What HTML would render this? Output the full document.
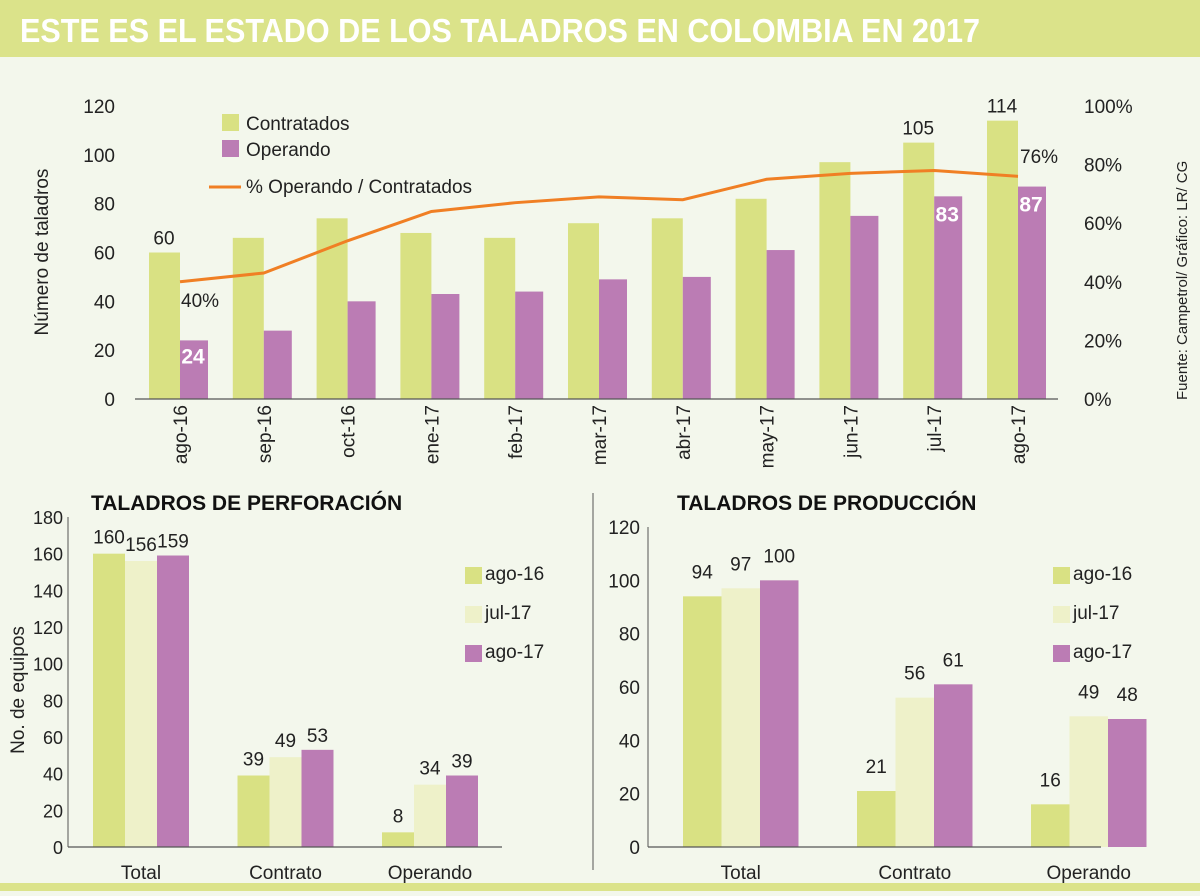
<!DOCTYPE html>
<html><head><meta charset="utf-8"><style>
body{margin:0;width:1200px;height:891px;overflow:hidden;background:#f3f7ec;font-family:"Liberation Sans",sans-serif}
svg text{font-family:"Liberation Sans",sans-serif}
</style></head><body>
<svg id="s" width="1200" height="891" xmlns="http://www.w3.org/2000/svg">
<rect x="0" y="0" width="1200" height="891" fill="#f3f7ec"/>
<rect x="0" y="0" width="1200" height="57" fill="#dbe38a"/>
<text x="20" y="42" font-size="33" font-weight="bold" fill="#fff" textLength="960" lengthAdjust="spacingAndGlyphs">ESTE ES EL ESTADO DE LOS TALADROS EN COLOMBIA EN 2017</text>
<rect x="0" y="883" width="1200" height="8" fill="#dbe38a"/>
<line x1="593" y1="493" x2="593" y2="870" stroke="#555" stroke-width="1"/>
<text transform="translate(1187,400) rotate(-90)" font-size="15" fill="#222">Fuente: Campetrol/ Gráfico: LR/ CG</text>
<g id="topchart"></g>
<g id="bl"></g>
<g id="br"></g>
</svg>
<script>
const months=["ago-16","sep-16","oct-16","ene-17","feb-17","mar-17","abr-17","may-17","jun-17","jul-17","ago-17"];
const contratados=[60,66,74,68,66,72,74,82,97,105,114];
const operando=[24,28,40,43,44,49,50,61,75,83,87];
const pctOperando=[40,43,54,64,67,69,68,75,77,78,76];
const leftTicks=[0,20,40,60,80,100,120];
const rightTicks=[0,20,40,60,80,100];
const perfCats=["Total","Contrato","Operando"];
const perfAgo16=[160,39,8];
const perfJul17=[156,49,34];
const perfAgo17=[159,53,39];
const perfTicks=[0,20,40,60,80,100,120,140,160,180];
const prodCats=["Total","Contrato","Operando"];
const prodAgo16=[94,21,16];
const prodJul17=[97,56,49];
const prodAgo17=[100,61,48];
const prodTicks=[0,20,40,60,80,100,120];
const G="#d9e183",P="#eef1c9",M="#bb7cb4",O="#f07f24";
const NS="http://www.w3.org/2000/svg";
function mk(par,tag,at,txt){const e=document.createElementNS(NS,tag);for(const k in at)e.setAttribute(k,at[k]);if(txt!==undefined)e.textContent=txt;par.appendChild(e);return e;}

// TOP
const topG=document.getElementById('topchart');
const y0=399,yTop=106;
const yL=v=>y0-(v/120)*(y0-yTop);
const yR=v=>y0-(v/100)*(y0-yTop);
const xG=i=>180+i*83.8;
leftTicks.forEach(t=>{const e=mk(topG,'text',{x:115,y:yL(t)+7,'font-size':19,'text-anchor':'end',fill:'#222'},t);
});
rightTicks.forEach(t=>{const e=mk(topG,'text',{x:1084,y:yR(t)+7,'font-size':19,fill:'#222'},t+'%');
});
{const e=mk(topG,'text',{transform:'translate(48,252) rotate(-90)','font-size':19,'text-anchor':'middle',fill:'#222'},'Número de taladros');
}
months.forEach((m,i)=>{
 const c=xG(i);
 let e=mk(topG,'rect',{x:c-31,y:yL(contratados[i]),width:31,height:y0-yL(contratados[i]),fill:G});
 
 e=mk(topG,'rect',{x:c,y:yL(operando[i]),width:28,height:y0-yL(operando[i]),fill:M});
 
 e=mk(topG,'text',{transform:`translate(${c+7},405) rotate(-90)`,'font-size':19,'text-anchor':'end',fill:'#222'},m);
 
});
{const e=mk(topG,'line',{x1:135,y1:y0,x2:1058,y2:y0,stroke:'#555','stroke-width':1.2});
}
{const pts=pctOperando.map((p,i)=>xG(i)+','+yR(p)).join(' ');
const e=mk(topG,'polyline',{points:pts,fill:'none',stroke:O,'stroke-width':3});
}
[0,9,10].forEach(i=>{
 const c=xG(i);
 let e=mk(topG,'text',{x:c-16,y:yL(contratados[i])-8,'font-size':19,'text-anchor':'middle',fill:'#222'},contratados[i]);
 
 e=mk(topG,'text',{x:c+13,y:yL(operando[i])+(i==0?23:25),'font-size':21,'font-weight':'bold','text-anchor':'middle',fill:'#fff'},operando[i]);
 
});
{let e=mk(topG,'text',{x:xG(0)+1,y:yR(pctOperando[0])+25,'font-size':19,fill:'#222'},pctOperando[0]+'%');

e=mk(topG,'text',{x:xG(10)+2,y:163,'font-size':19,fill:'#222'},pctOperando[10]+'%');
}
[[G,'Contratados',114],[M,'Operando',140]].forEach(([c,t,y])=>{
 let e=mk(topG,'rect',{x:222,y:y,width:17,height:17,fill:c});
 e=mk(topG,'text',{x:246,y:y+16,'font-size':19,fill:'#222'},t);
});
{let e=mk(topG,'line',{x1:209,y1:187,x2:241,y2:187,stroke:O,'stroke-width':3});
e=mk(topG,'text',{x:246,y:193,'font-size':19,fill:'#222'},'% Operando / Contratados');}

// BOTTOM
function grouped(g,o){
 const ys=v=>o.y0-(v/o.max)*(o.y0-o.yMax);
 o.ticks.forEach(t=>{const e=mk(g,'text',{x:o.tx,y:ys(t)+7,'font-size':o.tfs,'text-anchor':'end',fill:'#222'},t);
 });
 let e=mk(g,'line',{x1:o.ax0,y1:o.yMax,x2:o.ax0,y2:o.y0,stroke:'#555','stroke-width':1});
 
 e=mk(g,'text',{x:o.titleX,y:510,'font-size':21,'font-weight':'bold',fill:'#111'},o.title);
 
 const series=[[o.s1,G],[o.s2,P],[o.s3,M]];
 o.cats.forEach((c,i)=>{
  const left=o.g0+i*o.gs;
  series.forEach(([arr,col],j)=>{
   const x=left+j*o.bw;
   let e=mk(g,'rect',{x:x,y:ys(arr[i]),width:o.bw,height:o.y0-ys(arr[i]),fill:col});
   
   e=mk(g,'text',{x:x+o.bw/2,y:ys(arr[i])-(o.lblOff[j]),'font-size':19,'text-anchor':'middle',fill:'#222'},arr[i]);
   
  });
  const e2=mk(g,'text',{x:left+o.bw*1.5,y:o.y0+32,'font-size':19,'text-anchor':'middle',fill:'#222'},c);
  
 });
 e=mk(g,'line',{x1:o.ax0,y1:o.y0,x2:o.ax1,y2:o.y0,stroke:'#555','stroke-width':1.2});
 
 [[G,'ago-16',567],[P,'jul-17',606],[M,'ago-17',645]].forEach(([c,t,y])=>{
  let e=mk(g,'rect',{x:o.lx,y:y,width:17,height:17,fill:c});
  e=mk(g,'text',{x:o.lx+20,y:y+13,'font-size':19,fill:'#222'},t);
 });
}
grouped(document.getElementById('bl'),{y0:847,yMax:517,max:180,ticks:perfTicks,tx:63,tfs:18,ax0:68,ax1:502,g0:93,gs:144.5,bw:32,
 cats:perfCats,s1:perfAgo16,s2:perfJul17,s3:perfAgo17,title:'TALADROS DE PERFORACIÓN',titleX:91,lx:465,lblOff:[10,10,8]});
{const e=mk(document.getElementById('bl'),'text',{transform:'translate(24,690) rotate(-90)','font-size':19,'text-anchor':'middle',fill:'#222'},'No. de equipos');
}
grouped(document.getElementById('br'),{y0:847,yMax:527,max:120,ticks:prodTicks,tx:640,tfs:19,ax0:648,ax1:1101,g0:683,gs:174,bw:38.5,
 cats:prodCats,s1:prodAgo16,s2:prodJul17,s3:prodAgo17,title:'TALADROS DE PRODUCCIÓN',titleX:677,lx:1053,lblOff:[18,18,18]});
</script>
</body></html>
